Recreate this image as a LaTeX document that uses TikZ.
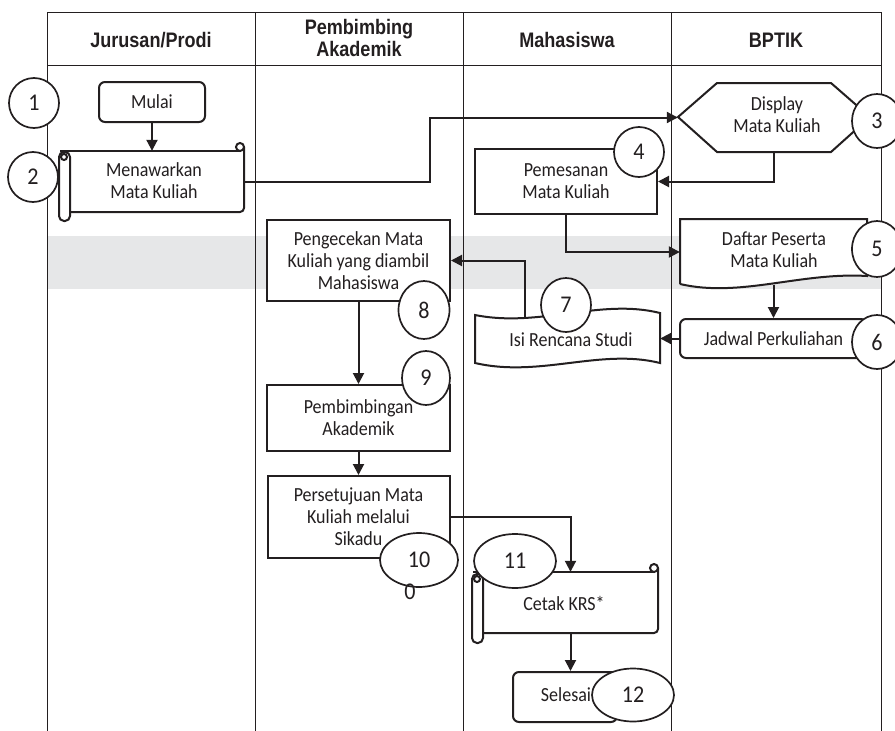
\documentclass[tikz,border=0pt]{standalone}
\usepackage{fontspec}
\setmainfont{Carlito}[FakeStretch=0.9]
\newfontfamily\hdrfont{Liberation Sans}[FakeStretch=0.86]
\newfontfamily\numfontfam{Carlito}[FakeStretch=0.92]
\usetikzlibrary{arrows.meta,shapes.geometric,calc}
\definecolor{ink}{HTML}{231F20}
\definecolor{bandgray}{HTML}{E6E7E8}
\newcommand\mybody{\fontsize{20}{22}\selectfont}
\newcommand\mynum{\numfontfam\fontsize{24}{26}\selectfont}
\tikzset{
  lane/.style={draw=ink, line width=1pt},
  shp/.style={draw=ink, line width=2pt},
  proc/.style={shp, fill=white, rectangle, align=center, inner sep=0pt, font=\mybody, text=ink},
  term/.style={proc, rounded corners=6pt},
  lbl/.style={align=center, inner sep=0pt, font=\mybody, text=ink},
  num/.style={draw=ink, line width=1.7pt, fill=white, ellipse, inner sep=0pt, font=\mynum, text=ink},
  hdr/.style={align=center, inner sep=0pt, font=\hdrfont\bfseries\fontsize{21}{24}\selectfont, text=ink},
  flow/.style={draw=ink, line width=2pt, -{Triangle[length=11pt,width=11pt]}},
}
\begin{document}
\begin{tikzpicture}[x=1pt,y=-1pt]
\useasboundingbox (0,0) rectangle (895,731);
% band
\fill[bandgray] (47,236) rectangle (881,289);
% table
\draw[lane] (47,731) -- (47,12) -- (881,12) -- (881,731);
\draw[lane] (47,65) -- (881,65);
\draw[lane] (255,12) -- (255,731);
\draw[lane] (463,12) -- (463,731);
\draw[lane] (671,12) -- (671,731);
% headers
\node[hdr] (h1) at (151,40) {Jurusan/Prodi};
\node[hdr] (h2) at (359,38) {Pembimbing\\[-2pt]Akademik};
\node[hdr] (h3) at (567,40) {Mahasiswa};
\node[hdr] (h4) at (776,40) {BPTIK};

% scroll: Menawarkan
\fill[white] (70,151) rectangle (244,212);
\draw[shp] (60,151) -- (240,151);
\draw[shp] (240,147) circle[radius=4];
\draw[shp, rounded corners=4pt] (244,147) -- (244,212) -- (70,212);
\draw[shp, fill=white, rounded corners=5pt] (59,152) rectangle (70,221);
\draw[shp] (64,157) circle[radius=3];
\node[lbl, minimum width=174, minimum height=61] (menawarkan) at (157,181.5) {};
\node[lbl] (menawarkantxt) at (154,181) {Menawarkan\\Mata Kuliah};

% display hexagon
\draw[shp, fill=white] (678,117) -- (717,83) -- (831,83) -- (870,117) -- (831,152) -- (717,152) -- cycle;
\node[lbl, minimum width=192, minimum height=69] (display) at (774,117.5) {};
\node[lbl] (displaytxt) at (777,115) {Display\\Mata Kuliah};

% document: Daftar
\draw[shp, fill=white] (680,284) -- (680,219) -- (867,219) -- (867,276)
  .. controls (800,272) and (740,298) .. (680,284);
\node[lbl, minimum width=187, minimum height=66] (daftar) at (773.5,252) {};
\node[lbl] (daftartxt) at (774,250) {Daftar Peserta\\Mata Kuliah};

% tape: Isi Rencana Studi
\draw[shp, fill=white] (475,315) .. controls (540,328) and (600,298) .. (660,313)
  -- (660,363) .. controls (600,348) and (540,378) .. (475,363) -- cycle;
\node[lbl, minimum width=185, minimum height=40] (isi) at (567.5,338.5) {};
\node[lbl] (isitxt) at (571,340) {Isi Rencana Studi};

% scroll: Cetak KRS
\fill[white] (483,572) rectangle (658,633);
\draw[shp] (473,572) -- (654,572);
\draw[shp] (654,568) circle[radius=4];
\draw[shp, rounded corners=4pt] (658,568) -- (658,633) -- (483,633);
\draw[shp, fill=white, rounded corners=5pt] (472,574) rectangle (483,643);
\draw[shp] (477,579) circle[radius=3];
\node[lbl, minimum width=175, minimum height=61] (cetak) at (570.5,602.5) {};
\node[lbl] (cetaktxt) at (564,603) {Cetak KRS*};

% boxes
\node[term, minimum width=106, minimum height=40] (mulai) at (152,102) {Mulai};
\node[proc, minimum width=182, minimum height=65] (pemesanan) at (566,181.5) {Pemesanan\\Mata Kuliah};
\node[term, minimum width=187, minimum height=39] (jadwal) at (773.5,338.5) {Jadwal Perkuliahan};
\node[proc, minimum width=183, minimum height=81] (pengecekan) at (358.5,260.5) {Pengecekan Mata\\Kuliah yang diambil\\Mahasiswa};
\node[proc, minimum width=183, minimum height=66] (pembimbingan) at (358.5,418) {Pembimbingan\\Akademik};
\node[proc, minimum width=182, minimum height=82] (persetujuan) at (358.5,517) {Persetujuan Mata\\Kuliah melalui\\Sikadu};
\node[term, minimum width=104, minimum height=50] (selesai) at (565,697) {};
\node[lbl] (selesaitxt) at (566,695) {Selesai};

% connectors
\coordinate (j1) at (430,181.5);
\coordinate (isitop) at (525,318);
\draw[flow] (mulai.south) -- (mulai.south |- menawarkan.north);
\draw[flow] (menawarkan.east) -- (j1) |- (display.west);
\draw[flow] (display.south) |- (pemesanan.east);
\draw[flow] (pemesanan.south) |- (daftar.west);
\draw[flow] (daftar.south) -- (jadwal.north);
\draw[flow] (jadwal.west) -- (isi.east);
\draw[flow] (isitop) |- (pengecekan.east);
\draw[flow] (pengecekan.south) -- (pembimbingan.north);
\draw[flow] (pembimbingan.south) -- (persetujuan.north);
\draw[flow] (persetujuan.east) -| (cetak.north);
\draw[flow] (cetak.south) -- (cetak.south |- selesai.north);

% step numbers
\node[num, minimum width=50, minimum height=50] (n1) at (34,103) {1};
\node[num, minimum width=50, minimum height=50] (n2) at (33,177) {2};
\node[num, minimum width=50, minimum height=54] (n3) at (877,121) {3};
\node[num, minimum width=50, minimum height=50] (n4) at (639,152) {4};
\node[num, minimum width=50, minimum height=56] (n5) at (877,249) {5};
\node[num, minimum width=50, minimum height=54] (n6) at (877,342) {6};
\node[num, minimum width=50, minimum height=54] (n7) at (566,305) {7};
\node[num, minimum width=51, minimum height=58] (n8) at (424,310) {8};
\node[num, minimum width=48, minimum height=54] (n9) at (426,378) {9};
\node[num, minimum width=78, minimum height=54] (n10) at (419,560) {10};
\node[lbl, font=\mynum] (n10b) at (410,592) {0};
\node[num, minimum width=82, minimum height=54] (n11) at (515,561) {11};
\node[num, minimum width=82, minimum height=53] (n12) at (633,695) {12};
\end{tikzpicture}
\end{document}
